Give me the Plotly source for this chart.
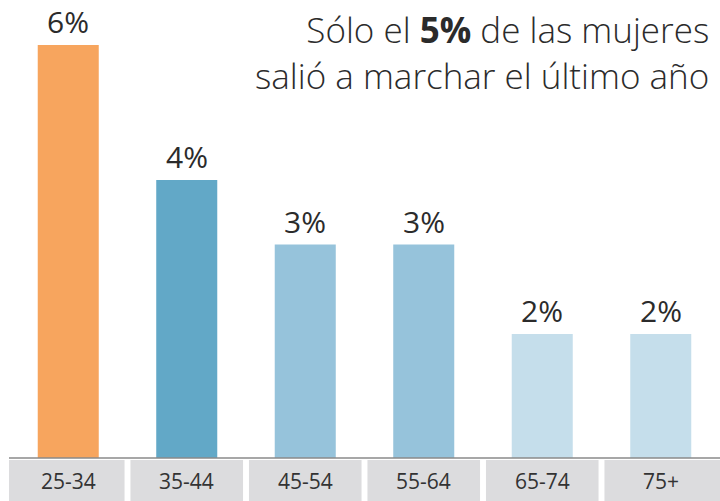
import plotly.graph_objects as go

# data
age_groups = ["25-34", "35-44", "45-54", "55-64", "65-74", "75+"]
pct_values = [6.0, 4.04, 3.1, 3.1, 1.8, 1.8]
pct_labels = ["6%", "4%", "3%", "3%", "2%", "2%"]
bar_colors = ["#F7A55E", "#62A8C7", "#96C3DB", "#96C3DB", "#C5DEEB", "#C5DEEB"]

FONT = "'Open Sans', Lato, sans-serif"
TEXT_COLOR = "#2b2b2b"

fig = go.Figure()
fig.add_trace(
    go.Bar(
        x=age_groups,
        y=pct_values,
        marker=dict(color=bar_colors, line=dict(width=0)),
        hoverinfo="skip",
    )
)

# value labels above bars
for cat, val, lbl in zip(age_groups, pct_values, pct_labels):
    fig.add_annotation(
        x=cat, y=val, text=lbl, showarrow=False,
        xanchor="center", yanchor="bottom", yshift=1,
        font=dict(family=FONT, size=30, color=TEXT_COLOR),
    )

# grey category boxes under the baseline
box_bottom = -0.625
box_top = -0.03
for i, cat in enumerate(age_groups):
    x0 = i - 0.5 + (0.025 if i > 0 else 0)
    x1 = i + 0.5 - (0.025 if i < len(age_groups) - 1 else 0)
    fig.add_shape(
        type="rect", xref="x", yref="y",
        x0=x0, x1=x1, y0=box_bottom, y1=box_top,
        fillcolor="#DCDCDE", line=dict(width=0), layer="below",
    )
    fig.add_annotation(
        x=cat, y=(box_bottom + box_top) / 2, text=cat, showarrow=False,
        xanchor="center", yanchor="middle",
        font=dict(family=FONT, size=21, color="#333333"),
    )

# baseline
fig.add_shape(
    type="line", xref="paper", yref="y", x0=0, x1=1, y0=0, y1=0,
    line=dict(color="#8a8a8a", width=1.5),
)

# headline
fig.add_annotation(
    xref="paper", yref="paper", x=0.987, y=0.992,
    xanchor="right", yanchor="top", align="right", showarrow=False,
    text="Sólo el <b>5%</b> de las mujeres<br>salió a marchar el último año",
    font=dict(family=FONT, size=35, color=TEXT_COLOR, weight=300),
)

fig.update_layout(
    width=720, height=501,
    margin=dict(l=9, r=0, t=0, b=0),
    paper_bgcolor="white", plot_bgcolor="white",
    bargap=0.485, showlegend=False,
    xaxis=dict(showticklabels=False, showgrid=False, zeroline=False,
               showline=False, ticks=""),
    yaxis=dict(range=[-0.625, 6.654], showticklabels=False, showgrid=False,
               zeroline=False, showline=False, ticks=""),
)

# drop the default page margin so the 720x501 figure fills the window
fig.write_html("out.html", config={"displayModeBar": False},
               post_script="document.body.style.margin='0';")
